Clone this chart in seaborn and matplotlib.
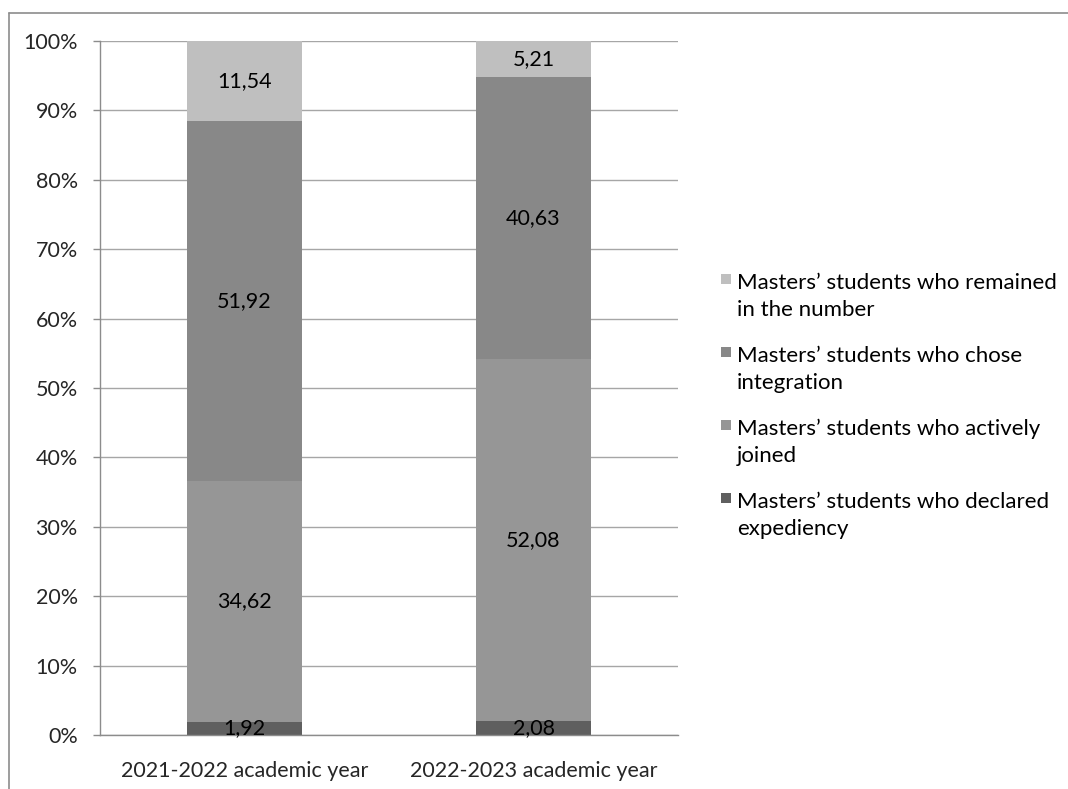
import matplotlib
matplotlib.use("Agg")
import matplotlib.pyplot as plt
from matplotlib.lines import Line2D
from matplotlib.patches import Rectangle
import seaborn as sns
import pandas as pd
import numpy as np

years = ["2021-2022 academic year", "2022-2023 academic year"]
declared = [1.92, 2.08]
actively = [34.62, 52.08]
integration = [51.92, 40.63]
remained = [11.54, 5.21]

series_names = [
    "Masters\u2019 students who declared\nexpediency",
    "Masters\u2019 students who actively\njoined",
    "Masters\u2019 students who chose\nintegration",
    "Masters\u2019 students who remained\nin the number",
]
series_vals = [declared, actively, integration, remained]
colors = ["#5f5f5f", "#969696", "#888888", "#bfbfbf"]

FS = 15.5
LFS = 16
sns.set_theme(style="white")
plt.rcParams["font.family"] = ["Lato", "DejaVu Sans"]

W, H = 1068, 789
fig = plt.figure(figsize=(W/100, H/100), dpi=100)
ax = fig.add_axes([100/W, 1-735/H, (678-100)/W, (735-41)/H])

bottom = np.zeros(len(years))
for name, vals, col in zip(series_names, series_vals, colors):
    df = pd.DataFrame({"year": years, "val": vals})
    sns.barplot(data=df, x="year", y="val", bottom=bottom, color=col,
                width=0.395, ax=ax, saturation=1, errorbar=None, linewidth=0)
    bottom = bottom + np.array(vals)

for cont in ax.containers:
    ax.bar_label(cont, labels=[f"{v:.2f}".replace(".", ",") for v in cont.datavalues],
                 label_type="center", fontsize=FS, color="#000000")

ax.set_xlim(-0.5, 1.5)
ax.set_ylim(0, 100)
ax.set_yticks(np.arange(0, 101, 10))
ax.set_yticklabels([f"{t}%" for t in range(0, 101, 10)], fontsize=FS)
ax.set_xlabel("")
ax.set_ylabel("")
ax.tick_params(axis="x", labelsize=FS, length=0, pad=19)
ax.set_xticks([-0.5, 0.5, 1.5], minor=True)
ax.tick_params(axis="x", which="minor", length=5, color="#8c8c8c", width=1, direction="out")
ax.tick_params(axis="y", length=5, color="#8c8c8c", width=1, direction="out", pad=11, left=True)
ax.yaxis.grid(True, color="#a6a6a6", linewidth=1)
ax.set_axisbelow(True)
for s in ["top", "right"]:
    ax.spines[s].set_visible(False)
for s in ["left", "bottom"]:
    ax.spines[s].set_color("#8c8c8c")
    ax.spines[s].set_linewidth(1)

# legend (top entry = last series), marker aligned with first text line
for i, (name, col) in enumerate(zip(series_names[::-1], colors[::-1])):
    yc = 279 + 73 * i
    fig.add_artist(Rectangle((721/W, 1-(yc+5)/H), 10/W, 10/H, facecolor=col,
                             edgecolor="none", transform=fig.transFigure))
    fig.text(737/W, 1-(yc-6)/H, name, fontsize=LFS, va="top", ha="left",
             linespacing=1.44, color="#000000")

# outer chart border
fig.add_artist(Line2D([9/W, 9/W], [0, 1-13/H], color="#8c8c8c", linewidth=1.2,
                      transform=fig.transFigure))
fig.add_artist(Line2D([9/W, 1], [1-13/H, 1-13/H], color="#8c8c8c", linewidth=1.2,
                      transform=fig.transFigure))

fig.savefig("out.png", dpi=100)
